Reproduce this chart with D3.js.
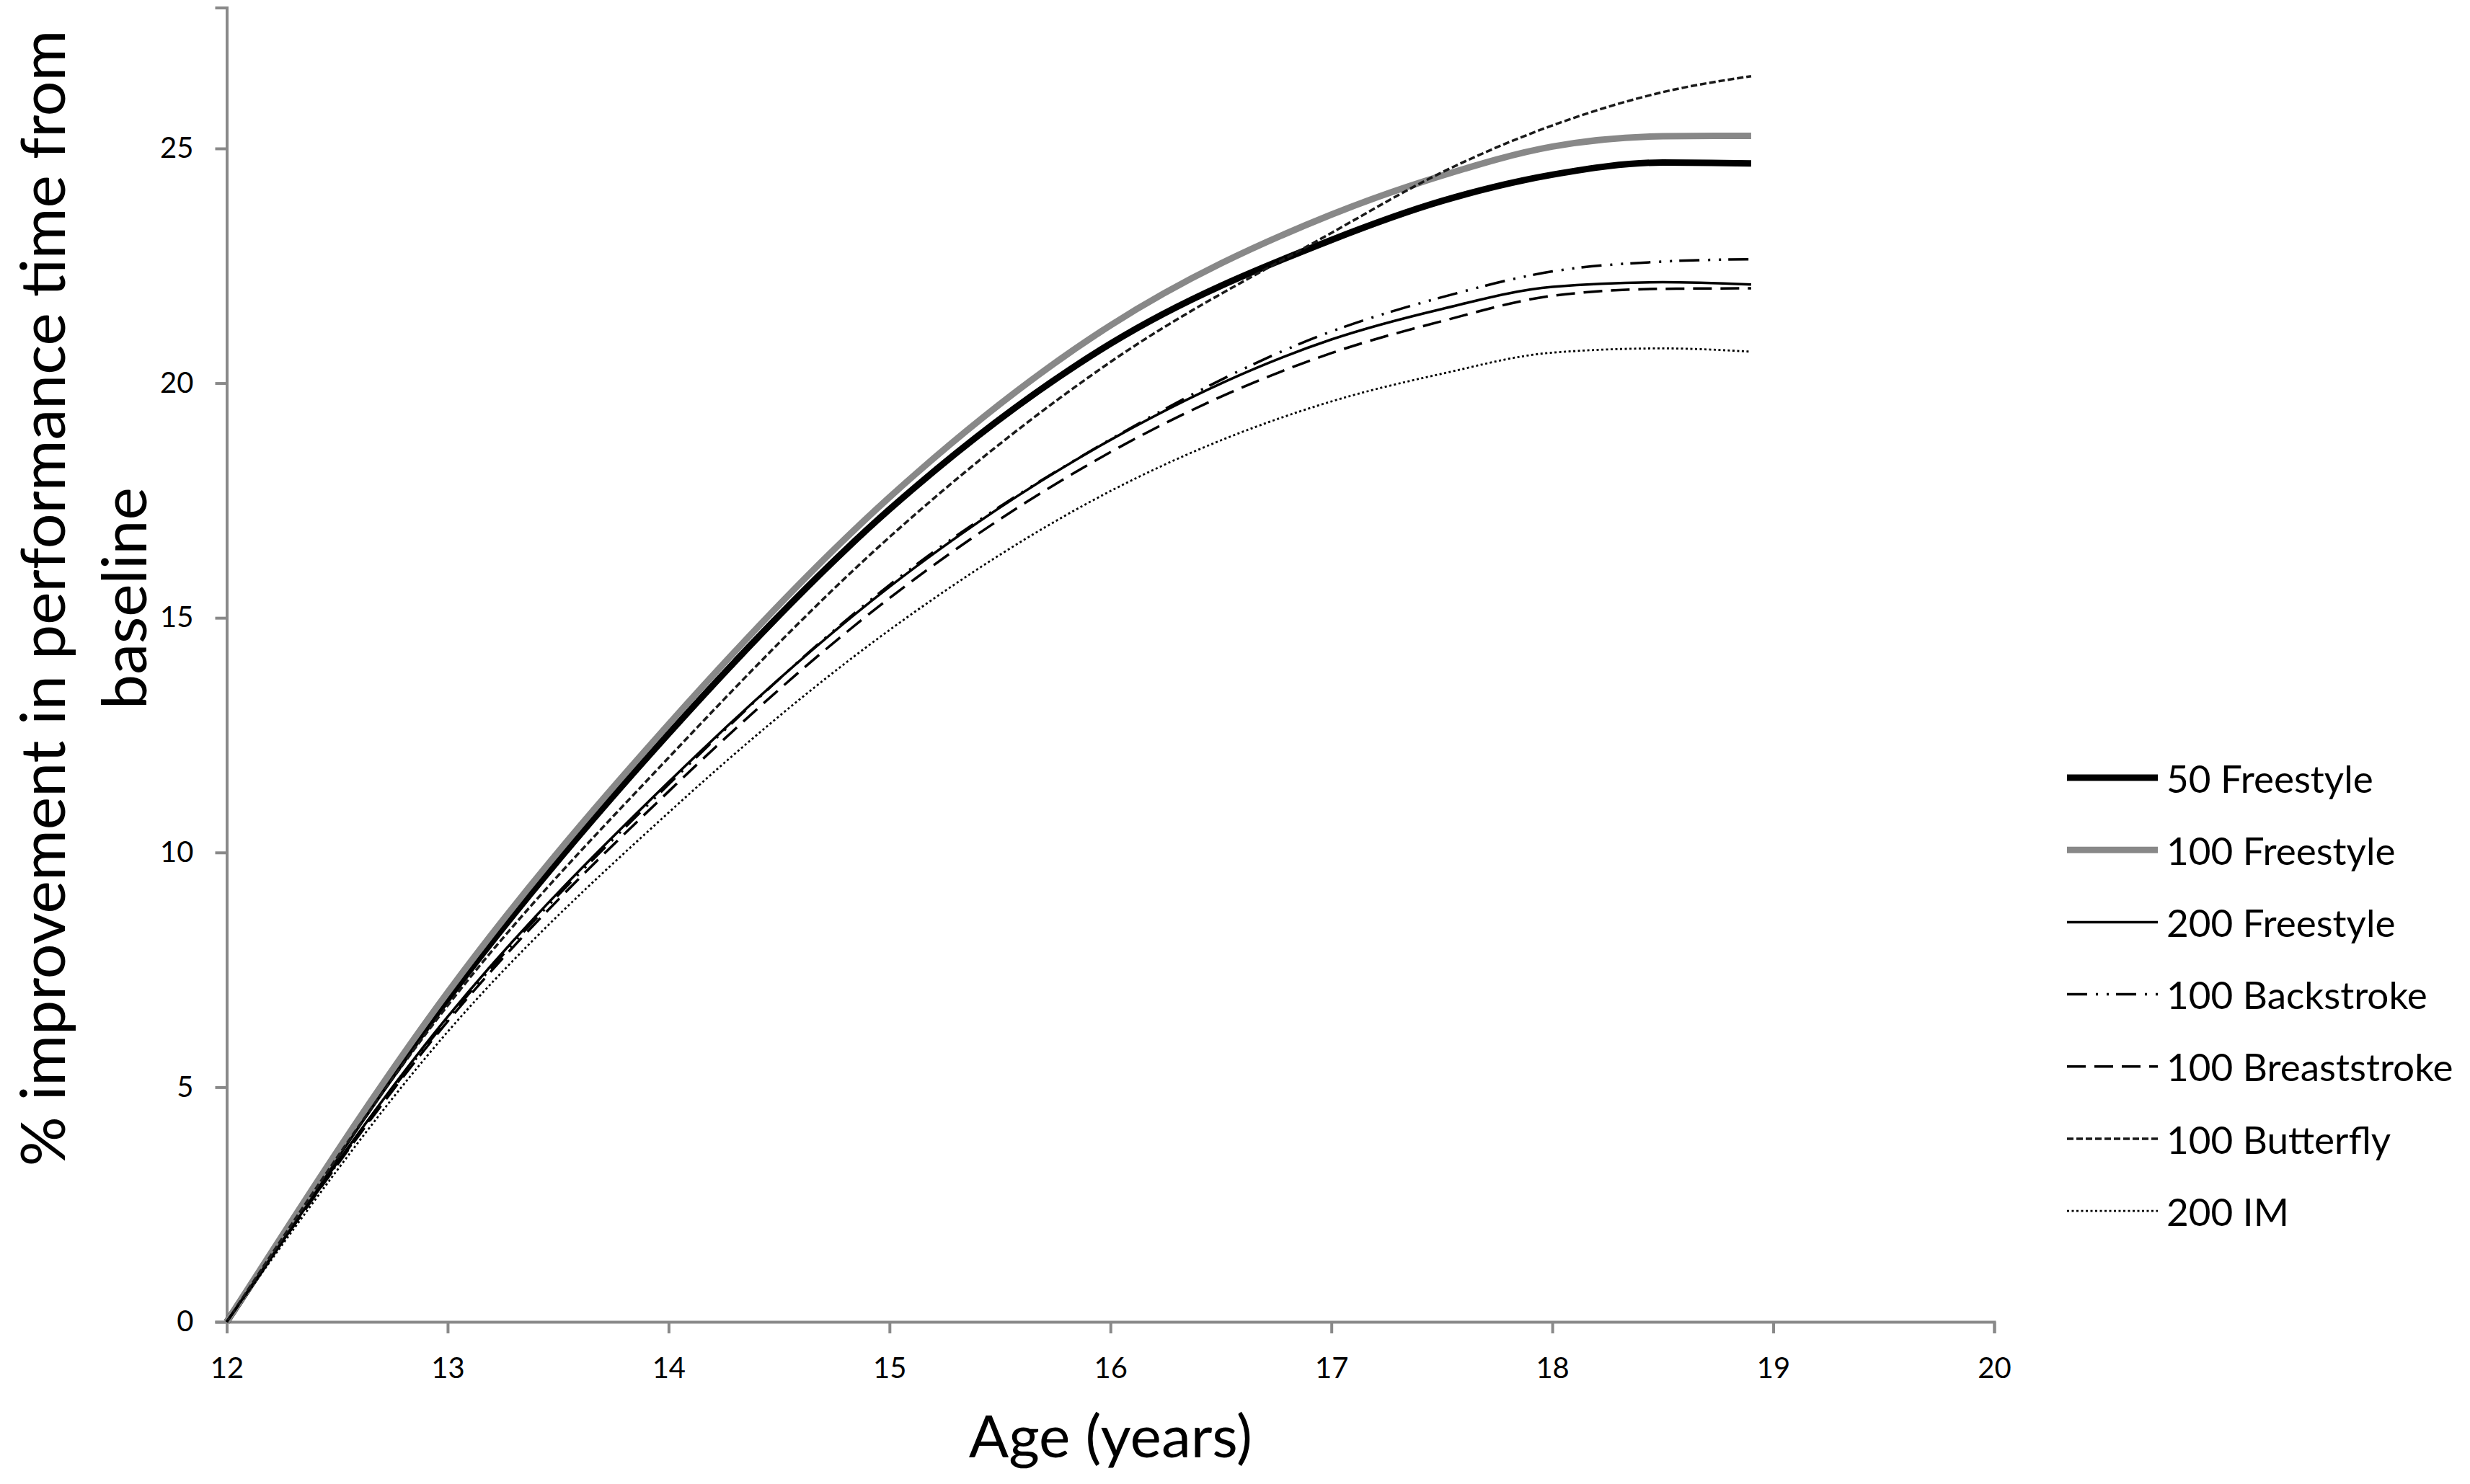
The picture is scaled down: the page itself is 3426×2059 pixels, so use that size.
<!DOCTYPE html>
<html>
<head>
<meta charset="utf-8">
<script src="https://cdn.jsdelivr.net/npm/d3@7"></script>
<style>
  html, body { margin: 0; padding: 0; background: #fff; }
  svg { display: block; }
  text { font-family: Lato, "Open Sans", sans-serif; fill: #000; }
</style>
</head>
<body>
<script>
// ---------------- data ----------------
const ages = [12, 13, 14, 15, 16, 17, 17.5, 18, 18.5, 18.9];
const seriesNames = ["50 Freestyle", "100 Freestyle", "200 Freestyle", "100 Backstroke", "100 Breaststroke", "100 Butterfly", "200 IM"];
const free50   = [0, 6.87, 12.53, 17.31, 20.84, 23.05, 23.88, 24.44, 24.70, 24.68];
const free100  = [0, 7.02, 12.73, 17.57, 21.23, 23.59, 24.42, 25.04, 25.26, 25.27];
const free200  = [0, 6.50, 11.50, 15.66, 18.79, 20.93, 21.58, 22.05, 22.15, 22.10];
const back100  = [0, 6.45, 11.45, 15.70, 18.80, 21.10, 21.83, 22.38, 22.59, 22.64];
const breast100= [0, 6.40, 11.30, 15.42, 18.53, 20.64, 21.32, 21.86, 22.01, 22.02];
const fly100   = [0, 6.74, 12.02, 16.72, 20.45, 23.20, 24.49, 25.49, 26.20, 26.54];
const im200    = [0, 6.18, 10.85, 14.74, 17.70, 19.61, 20.20, 20.65, 20.74, 20.67];
const seriesValues = [free50, free100, free200, back100, breast100, fly100, im200];
const xTicks = [12, 13, 14, 15, 16, 17, 18, 19, 20];
const yTicks = [0, 5, 10, 15, 20, 25];
const xTitle = "Age (years)";
const yTitleLines = ["% improvement in performance time from", "baseline"];

// ---------------- styles ----------------
const styles = [
  { color: "#000000", width: 9,   dash: null },
  { color: "#888888", width: 9,   dash: null },
  { color: "#000000", width: 3.5, dash: null },
  { color: "#000000", width: 3.5, dash: "28,12,3,12,3,10" },
  { color: "#000000", width: 3.5, dash: "26,12" },
  { color: "#1a1a1a", width: 3.5, dash: "9,4" },
  { color: "#000000", width: 2.8, dash: "3,3.5" }
];

const W = 3426, H = 2059;
const svg = d3.select("body").append("svg").attr("width", W).attr("height", H);

const x = d3.scaleLinear().domain([12, 20]).range([314.5, 2766]);
const y = d3.scaleLinear().domain([0, 28]).range([1834, 10.6]);

const axisColor = "#898989";

// x axis
const gx = svg.append("g").attr("transform", `translate(0,${y(0)})`)
  .call(d3.axisBottom(x).tickValues(xTicks).tickSizeOuter(0).tickSize(16).tickPadding(34).tickFormat(d3.format("d")));
// y axis
const gy = svg.append("g").attr("transform", `translate(${x(12)},0)`)
  .call(d3.axisLeft(y).tickValues(yTicks).tickSizeOuter(0).tickSize(16).tickPadding(30).tickFormat(d3.format("d")));

[gx, gy].forEach(g => {
  g.select(".domain").attr("stroke", axisColor).attr("stroke-width", 4);
  g.selectAll(".tick line").attr("stroke", axisColor).attr("stroke-width", 4);
  g.selectAll(".tick text").attr("fill", "#000").style("font-size", "40px").style("font-family", "Lato, 'Open Sans', sans-serif");
});

// lines
const line = d3.line().x((d, i) => x(ages[i])).y(d => y(d)).curve(d3.curveMonotoneX);
const plot = svg.append("g");
seriesValues.forEach((vals, k) => {
  const s = styles[k];
  plot.append("path")
    .attr("d", line(vals))
    .attr("fill", "none")
    .attr("stroke", s.color)
    .attr("stroke-width", s.width)
    .attr("stroke-dasharray", s.dash)
    .attr("stroke-linejoin", "round");
});

// axis titles
svg.append("text")
  .attr("x", x(16)).attr("y", 2022)
  .attr("text-anchor", "middle")
  .style("font-size", "82px")
  .text(xTitle);

const yt = svg.append("g");
yt.append("text")
  .attr("transform", "translate(90,830) rotate(-90)")
  .attr("text-anchor", "middle")
  .style("font-size", "86px")
  .text(yTitleLines[0]);
yt.append("text")
  .attr("transform", "translate(203,830) rotate(-90)")
  .attr("text-anchor", "middle")
  .style("font-size", "86px")
  .text(yTitleLines[1]);

// legend
const legend = svg.append("g");
const legendY0 = 1079, legendStep = 100.2;
seriesNames.forEach((name, k) => {
  const s = styles[k];
  const cy = legendY0 + k * legendStep;
  legend.append("line")
    .attr("x1", 2867).attr("x2", 2993)
    .attr("y1", cy).attr("y2", cy)
    .attr("stroke", s.color)
    .attr("stroke-width", s.width)
    .attr("stroke-dasharray", s.dash);
  legend.append("text")
    .attr("x", 3005).attr("y", cy)
    .attr("dominant-baseline", "central")
    .style("font-size", "53px")
    .text(name);
});
</script>
</body>
</html>
